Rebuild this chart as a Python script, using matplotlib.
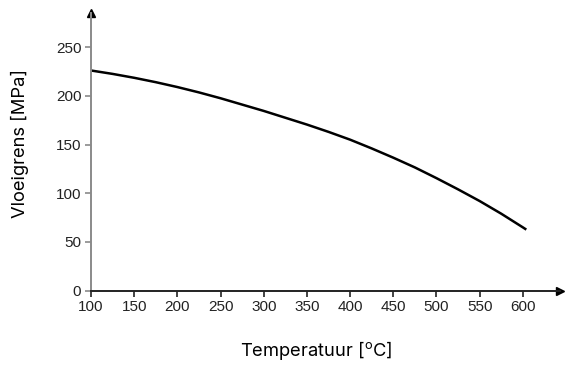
import matplotlib
matplotlib.use('Agg')
import matplotlib.pyplot as plt

# Yield strength vs temperature
temperatuur = [100, 125, 150, 175, 200, 225, 250, 275, 300, 325, 350, 375,
               400, 425, 450, 475, 500, 525, 550, 575, 600, 604]
vloeigrens = [226, 222.5, 218.5, 214, 209, 203.5, 197.5, 191, 184.5, 177.5, 170.5, 163,
              155, 146, 136.5, 126.5, 115.5, 104, 92, 79, 65, 62.7]

x_ticks = [100, 150, 200, 250, 300, 350, 400, 450, 500, 550, 600]
y_ticks = [0, 50, 100, 150, 200, 250]

W, H = 567, 372
fig = plt.figure(figsize=(W / 100, H / 100), dpi=100)
left, right, bottom, top = 91, 560, 290.7, 13
ax = fig.add_axes([left / W, (H - bottom) / H, (right - left) / W, (bottom - top) / H])

ax.plot(temperatuur, vloeigrens, color='black', linewidth=1.8,
        solid_capstyle='butt', solid_joinstyle='round')

ax.set_xlim(100, 643)
ax.set_ylim(0, 285)

for s in ['top', 'right']:
    ax.spines[s].set_visible(False)
ax.spines['left'].set_color('#8a8a8a')
ax.spines['left'].set_linewidth(1.4)
ax.spines['bottom'].set_color('#222222')
ax.spines['bottom'].set_linewidth(1.4)

# arrow heads at the ends of the axes
ax.plot(1, 0, '>', color='black', markersize=6, transform=ax.transAxes, clip_on=False)
ax.plot(0, 1, '^', color='black', markersize=6, transform=ax.transAxes, clip_on=False)

ax.set_xticks(x_ticks)
ax.set_yticks(y_ticks)
tick_font = dict(family='Liberation Sans', size=11)
ax.set_xticklabels([str(t) for t in x_ticks], fontdict=tick_font, color='#222222')
ax.set_yticklabels([str(t) for t in y_ticks], fontdict=tick_font, color='#222222')
ax.tick_params(axis='x', length=4.5, width=1.2, color='#222222', pad=2.5)
ax.tick_params(axis='y', length=4.5, width=1.2, color='#8a8a8a', pad=2.5)

label_font = dict(family='Inter', size=13.2)
fig.text(316 / W, 1 - 350 / H, 'Temperatuur [$^\\mathregular{o}$C]', ha='center', va='center', **label_font)
fig.text(20 / W, 1 - 143.5 / H, 'Vloeigrens [MPa]', ha='center', va='center', rotation=90, **label_font)

fig.savefig('out.png', dpi=100)
plt.close(fig)
